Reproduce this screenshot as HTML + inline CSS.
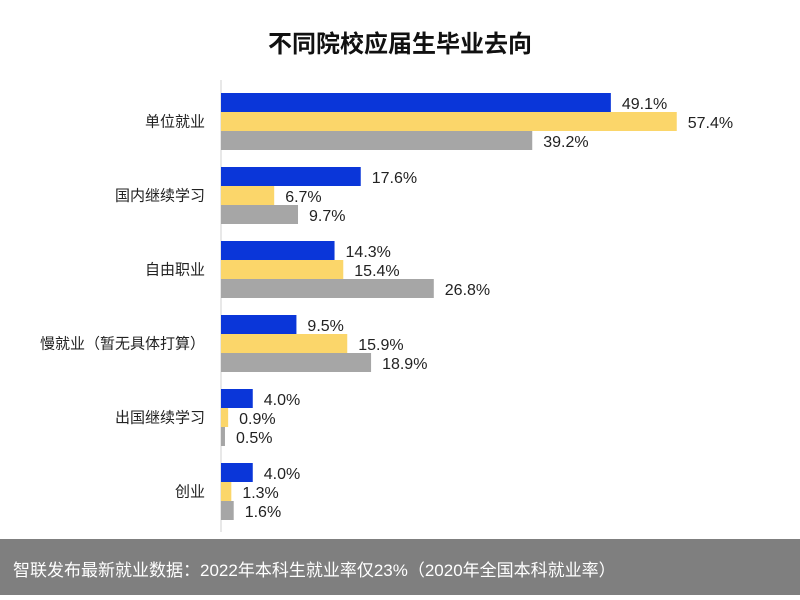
<!DOCTYPE html>
<html><head><meta charset="utf-8"><style>
body{margin:0;width:800px;height:595px;background:#fff;overflow:hidden;font-family:"Liberation Sans","Noto Sans CJK SC",sans-serif;}
#wrap{position:relative;width:800px;height:595px;}
#banner{position:absolute;left:0;top:539px;width:800px;height:56px;background:#7f7f7f;}
#banner span{position:absolute;left:13px;top:17px;color:#fff;font-size:17px;}
</style></head><body>
<div id="wrap">
<svg id="chart" width="800" height="595">
<text x="400" y="52" text-anchor="middle" font-size="24" font-weight="bold" fill="#111">不同院校应届生毕业去向</text>
<line x1="221" y1="80" x2="221" y2="532" stroke="#d0d0d0" stroke-width="1"/>
<g id="bars"></g>
</svg>
<div id="banner"><span>智联发布最新就业数据：2022年本科生就业率仅23%（2020年全国本科就业率）</span></div>
</div>
<script>
const categories=["单位就业","国内继续学习","自由职业","慢就业（暂无具体打算）","出国继续学习","创业"];
const seriesA=[49.1,17.6,14.3,9.5,4.0,4.0];
const seriesB=[57.4,6.7,15.4,15.9,0.9,1.3];
const seriesC=[39.2,9.7,26.8,18.9,0.5,1.6];
const seriesNames=["seriesA","seriesB","seriesC"];
const colors=["#0a36d9","#fbd66a","#a6a6a6"];
const x0=221, pxPer=7.94, groupTop=93, groupStep=74, barH=19;
const xs=v=>x0+v*pxPer;
const g=document.getElementById('bars');
const NS="http://www.w3.org/2000/svg";
[seriesA,seriesB,seriesC].forEach((s,si)=>{
  s.forEach((v,i)=>{
    const y=groupTop+i*groupStep+si*barH;
    const r=document.createElementNS(NS,'rect');
    r.setAttribute('x',x0);r.setAttribute('y',y);
    r.setAttribute('width',xs(v)-x0);r.setAttribute('height',barH);
    r.setAttribute('fill',colors[si]);
    
    
    g.appendChild(r);
    const t=document.createElementNS(NS,'text');
    t.setAttribute('x',xs(v)+11);t.setAttribute('y',y+16);
    t.setAttribute('font-size','16');t.setAttribute('fill','#222');
    t.textContent=v.toFixed(1)+'%';
    
    
    g.appendChild(t);
  });
});
categories.forEach((c,i)=>{
  const t=document.createElementNS(NS,'text');
  t.setAttribute('x',205);t.setAttribute('y',groupTop+i*groupStep+barH*1.5+5);
  t.setAttribute('text-anchor','end');t.setAttribute('font-size','15');t.setAttribute('fill','#222');
  t.textContent=c;
  
  
  g.appendChild(t);
});
</script>
</body></html>
